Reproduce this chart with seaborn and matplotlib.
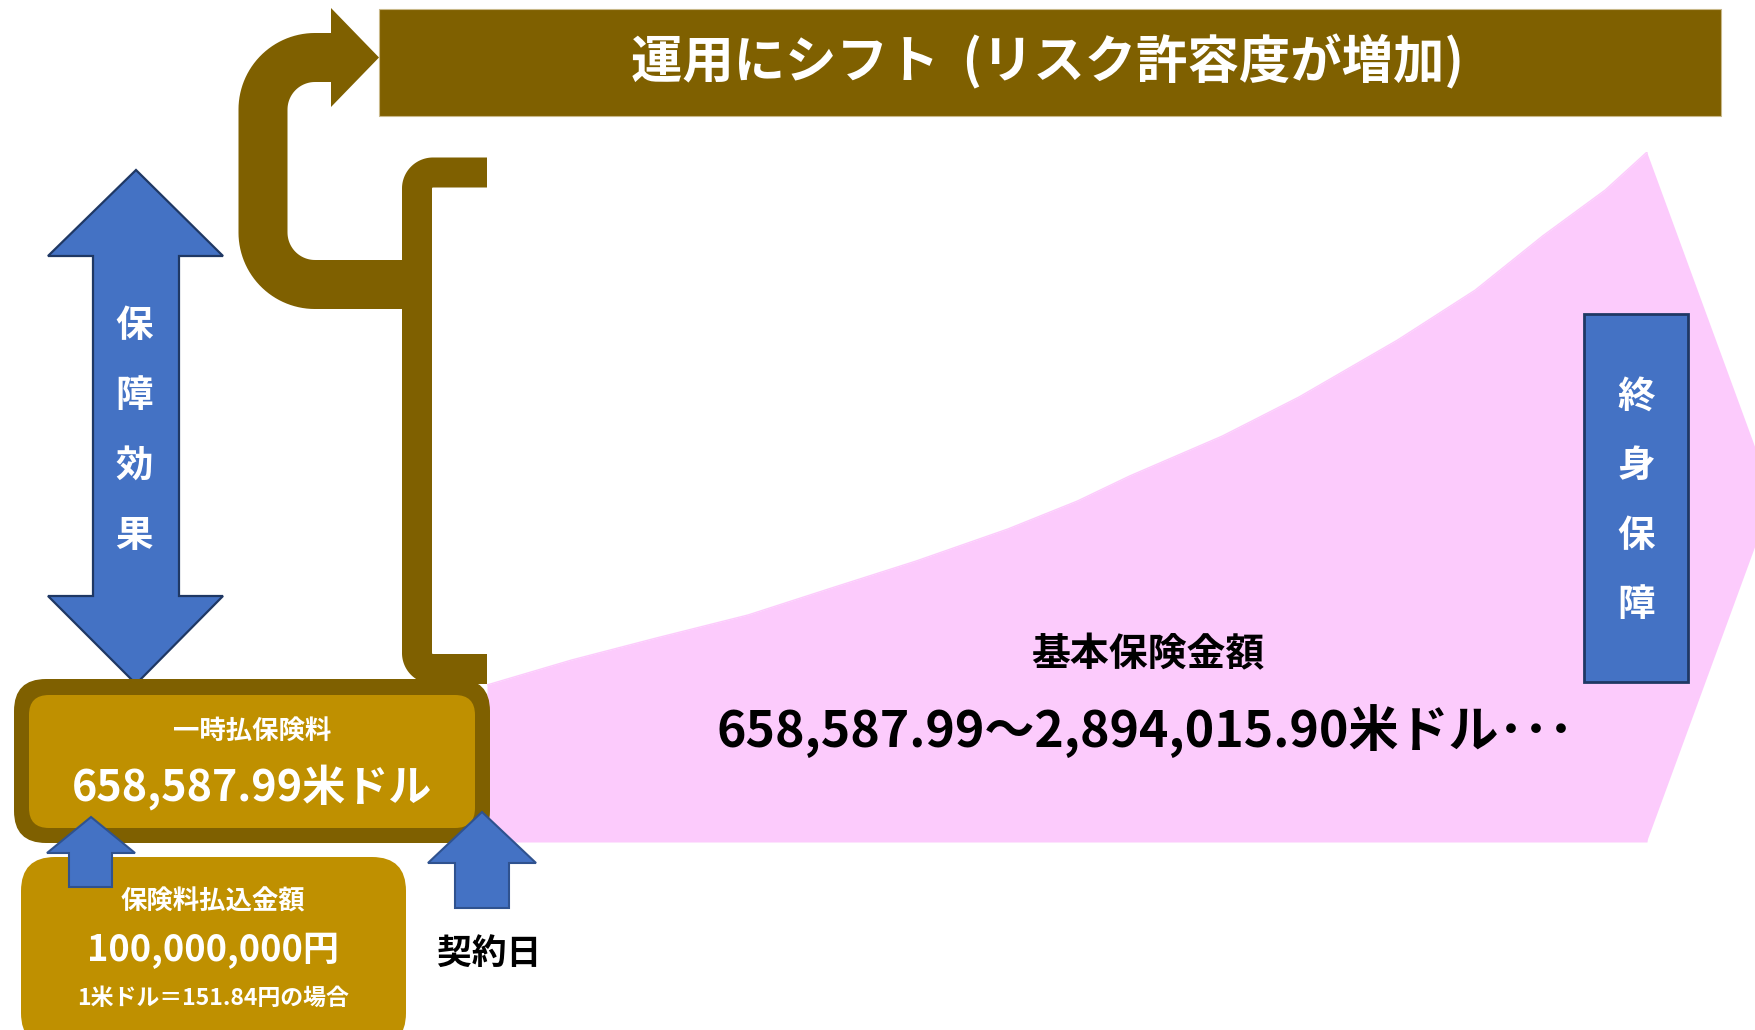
import numpy as np
import matplotlib
matplotlib.use("Agg")
import matplotlib.pyplot as plt
from matplotlib.patches import Polygon, Rectangle, FancyBboxPatch
import seaborn as sns

# ---- data -------------------------------------------------------------
# basic sum insured (USD) along the policy timeline (0 = contract date)
timeline = [0.0, 0.073, 0.146, 0.225, 0.297, 0.370, 0.449, 0.509, 0.554, 0.634,
            0.700, 0.785, 0.852, 0.910, 0.964, 1.0]
sum_insured = [658587.99, 763400, 855600, 952100, 1065300, 1178600, 1312800, 1430200,
               1535100, 1702900, 1866400, 2105500, 2315200, 2541700, 2734600, 2894015.90]

premium_jpy = 100_000_000          # premium paid in yen
fx_rate = 151.84                   # yen per US dollar
single_premium_usd = 658587.99     # one-time premium in USD

title_text = "運用にシフト  (リスク許容度が増加)"
effect_label = "保障効果"
lifetime_label = "終身保障"
contract_label = "契約日"
sum_label = "基本保険金額"

# ---- style ------------------------------------------------------------
sns.set_theme(style="white")
plt.rcParams["font.family"] = ["Noto Sans CJK JP", "DejaVu Sans"]

BROWN = "#7F6000"
GOLD = "#BF9000"
BLUE = "#4472C4"
NAVY = "#1F3864"
BLUE_EDGE = "#2F528F"
PINK = "#FCCBFC"

W, H = 1756, 1030
fig = plt.figure(figsize=(W / 100, H / 100), dpi=100)
fig.patch.set_facecolor("white")


def px(v):
    """pixel length -> points (figure dpi 100)."""
    return v * 0.72


# ---- growth area of the sum insured ------------------------------------
x0, x1 = 487, 1647          # timeline 0 .. 1
base_y, top_y = 842, 152    # 0 .. max sum insured
ax_c = fig.add_axes([x0 / W, (H - base_y) / H, (W - x0) / W, (base_y - top_y) / H])
ax_c.set_zorder(0)
peak = sum_insured[-1]
ax_c.set_xlim(0, (W - x0) / (x1 - x0))
ax_c.set_ylim(0, peak)
ax_c.axis("off")

ax_c.fill_between(timeline, 0, sum_insured, color=PINK, lw=0)
sns.lineplot(x=timeline, y=sum_insured, ax=ax_c, color=PINK, lw=1, sort=False)
tip = 1.109
ax_c.fill([1.0, tip, 1.0], [peak, peak / 2, 0], color=PINK, lw=0)

# ---- overlay in pixel space --------------------------------------------
ax = fig.add_axes([0, 0, 1, 1])
ax.set_zorder(1)
ax.patch.set_visible(False)
ax.set_xlim(0, W)
ax.set_ylim(H, 0)
ax.axis("off")


def arc(cx, cy, r, a0, a1, n=30):
    t = np.radians(np.linspace(a0, a1, n))
    return list(zip(cx + r * np.cos(t), cy + r * np.sin(t)))


# title banner
ax.add_patch(Rectangle((379, 9), 1721 - 379, 116 - 9, facecolor=BROWN, edgecolor="#C9B98A", lw=0.8))
ax.text(1047, 62, title_text, color="white", fontsize=37, fontweight="bold",
        ha="center", va="center")

# U-turn arrow leading up to the banner
cx, ytop, ybot, r = 263, 57.5, 284.5, 52
pts = [(405, ybot)] + arc(cx + r, ybot - r, r, 90, 180) + arc(cx + r, ytop + r, r, 180, 270) + [(333, ytop)]
xs, ys = zip(*pts)
ax.plot(xs, ys, color=BROWN, lw=px(49), solid_capstyle="butt", solid_joinstyle="round")
ax.add_patch(Polygon([(331, 8), (379, 57.5), (331, 107)], closed=True, facecolor=BROWN, lw=0))

# bracket spanning the growth area
bx, by0, by1, rb = 417, 172.5, 669, 16
pts = [(487, by0)] + arc(bx + rb, by0 + rb, rb, 270, 180) + arc(bx + rb, by1 - rb, rb, 180, 90) + [(487, by1)]
xs, ys = zip(*pts)
ax.plot(xs, ys, color=BROWN, lw=px(30), solid_capstyle="butt", solid_joinstyle="round")

# double arrow: protection effect
ax.add_patch(Polygon([(136, 170), (223, 256), (179, 256), (179, 596), (223, 596), (136, 684),
                      (48, 596), (93, 596), (93, 256), (48, 256)], closed=True,
                     facecolor=BLUE, edgecolor=NAVY, lw=1.6))
for i, ch in enumerate(effect_label):
    ax.text(134, 325 + i * 70, ch, color="white", fontsize=27, fontweight="bold",
            ha="center", va="center")

# one-time premium box
ax.add_patch(FancyBboxPatch((14, 679), 476, 164, boxstyle="round,pad=0,rounding_size=32",
                            facecolor=BROWN, lw=0))
ax.add_patch(FancyBboxPatch((29, 695), 446, 133, boxstyle="round,pad=0,rounding_size=20",
                            facecolor=GOLD, lw=0))
ax.text(252, 731, "一時払保険料", color="white", fontsize=19, fontweight="bold",
        ha="center", va="center")
ax.text(252, 787, f"{single_premium_usd:,.2f}米ドル", color="white", fontsize=31,
        fontweight="bold", ha="center", va="center")

# premium paid in yen
ax.add_patch(FancyBboxPatch((21, 857), 385, 190, boxstyle="round,pad=0,rounding_size=34",
                            facecolor=GOLD, lw=0))
ax.text(213, 902, "保険料払込金額", color="white", fontsize=19, fontweight="bold",
        ha="center", va="center")
ax.text(213, 951, f"{premium_jpy:,}円", color="white", fontsize=26, fontweight="bold",
        ha="center", va="center")
ax.text(213, 998, f"1米ドル＝{fx_rate:.2f}円の場合", color="white", fontsize=16.5,
        fontweight="bold", ha="center", va="center")

# small conversion arrow
ax.add_patch(Polygon([(91, 817), (135, 853), (112, 853), (112, 887), (69, 887), (69, 853), (47, 853)],
                     closed=True, facecolor=BLUE, edgecolor=BLUE_EDGE, lw=1.5))

# contract date arrow
ax.add_patch(Polygon([(482, 812), (536, 863), (509, 863), (509, 908), (455, 908), (455, 863), (428, 863)],
                     closed=True, facecolor=BLUE, edgecolor=BLUE_EDGE, lw=1.5))
ax.text(489, 953, contract_label, color="black", fontsize=25, fontweight="bold",
        ha="center", va="center")

# sum insured labels
ax.text(1148, 655, sum_label, color="black", fontsize=28, fontweight="bold",
        ha="center", va="center")
ax.text(1145, 731, f"{sum_insured[0]:,.2f}～{sum_insured[-1]:,.2f}米ドル･･･", color="black",
        fontsize=36, fontweight="bold", ha="center", va="center")

# lifetime coverage box
ax.add_patch(Rectangle((1584, 314), 104, 368, facecolor=BLUE, edgecolor=NAVY, lw=2))
for i, ch in enumerate(lifetime_label):
    ax.text(1636, 396 + i * 69.5, ch, color="white", fontsize=27, fontweight="bold",
            ha="center", va="center")

fig.savefig("out.png", dpi=100, facecolor="white")
